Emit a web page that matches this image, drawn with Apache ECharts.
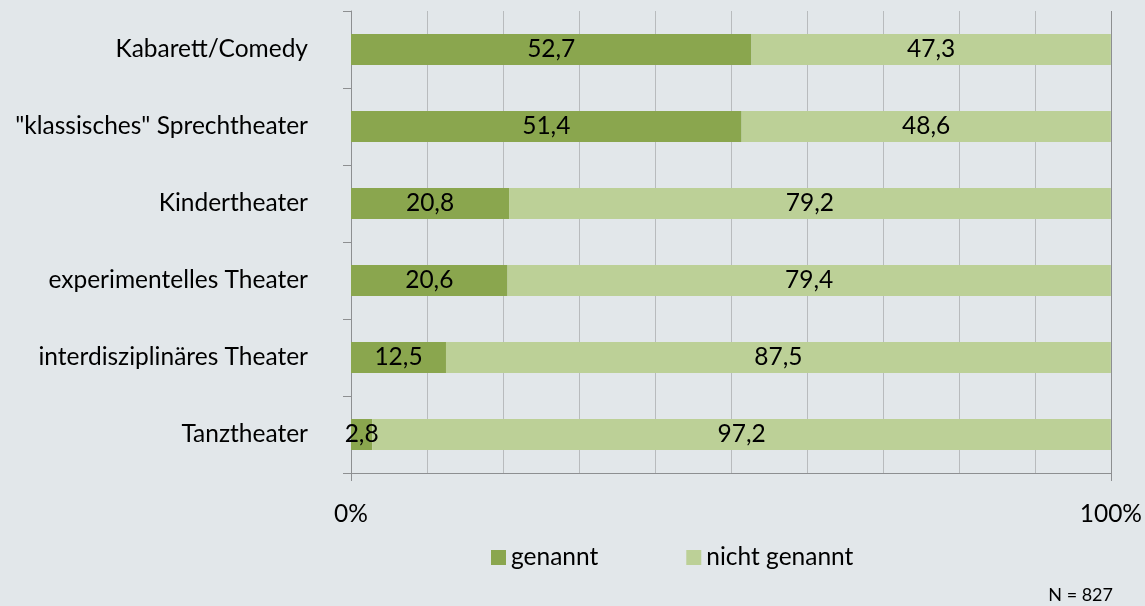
<!DOCTYPE html>
<html>
<head>
<meta charset="utf-8">
<script src="https://cdn.jsdelivr.net/npm/echarts@6/dist/echarts.min.js"></script>
<style>
  html, body { margin: 0; padding: 0; background: #e2e7ea; }
  #chart { width: 1145px; height: 606px; }
</style>
</head>
<body>
<div id="chart"></div>
<script>
// Kategorien von oben nach unten
var categories = ['Kabarett/Comedy', '"klassisches" Sprechtheater', 'Kindertheater',
  'experimentelles Theater', 'interdisziplinäres Theater', 'Tanztheater'];
var genannt = [52.7, 51.4, 20.8, 20.6, 12.5, 2.8];
var nichtGenannt = [47.3, 48.6, 79.2, 79.4, 87.5, 97.2];
var seriesNames = ['genannt', 'nicht genannt'];

var font = 'Lato, "Open Sans", sans-serif';
var fs = 24.5;
var chart = echarts.init(document.getElementById('chart'));

function komma(p) {
  return String(p.value).replace('.', ',');
}

chart.setOption({
  backgroundColor: '#e2e7ea',
  animation: false,
  textStyle: { fontFamily: font },
  grid: { left: 351, right: 34, top: 11, bottom: 133 },
  legend: {
    data: seriesNames,
    left: 486,
    top: 540,
    icon: 'rect',
    itemWidth: 15,
    itemHeight: 15,
    itemGap: 88,
    textStyle: { fontFamily: font, fontSize: fs, color: '#000' }
  },
  xAxis: {
    type: 'value',
    min: 0,
    max: 100,
    interval: 100,
    axisLine: { show: true, lineStyle: { color: '#8d8f91' } },
    axisTick: { show: true, length: 8, lineStyle: { color: '#8d8f91' } },
    axisLabel: { formatter: '{value}%', margin: 29, fontSize: fs, color: '#000', fontFamily: font },
    splitLine: { show: true, lineStyle: { color: '#8d8f91' } },
    minorTick: { show: false, splitNumber: 10 },
    minorSplitLine: { show: true, lineStyle: { color: '#b8bbbd' } }
  },
  yAxis: {
    type: 'category',
    data: categories,
    inverse: true,
    axisLine: { show: true, lineStyle: { color: '#8d8f91' } },
    axisTick: { show: true, length: 8, lineStyle: { color: '#8d8f91' } },
    axisLabel: { margin: 43, fontSize: fs, color: '#000', fontFamily: font }
  },
  series: [
    {
      name: seriesNames[0],
      type: 'bar',
      stack: 'summe',
      barWidth: 31,
      data: genannt,
      itemStyle: { color: '#8aa64e' },
      label: { show: true, position: 'inside', formatter: komma, color: '#000', fontSize: fs, fontFamily: font }
    },
    {
      name: seriesNames[1],
      type: 'bar',
      stack: 'summe',
      barWidth: 31,
      data: nichtGenannt,
      itemStyle: { color: '#bcd097' },
      label: { show: true, position: 'inside', formatter: komma, color: '#000', fontSize: fs, fontFamily: font }
    }
  ],
  graphic: [
    {
      type: 'text',
      right: 32,
      top: 586,
      style: { text: 'N = 827', fontSize: 18, fontFamily: font, fill: '#000' }
    }
  ]
});
</script>
</body>
</html>
